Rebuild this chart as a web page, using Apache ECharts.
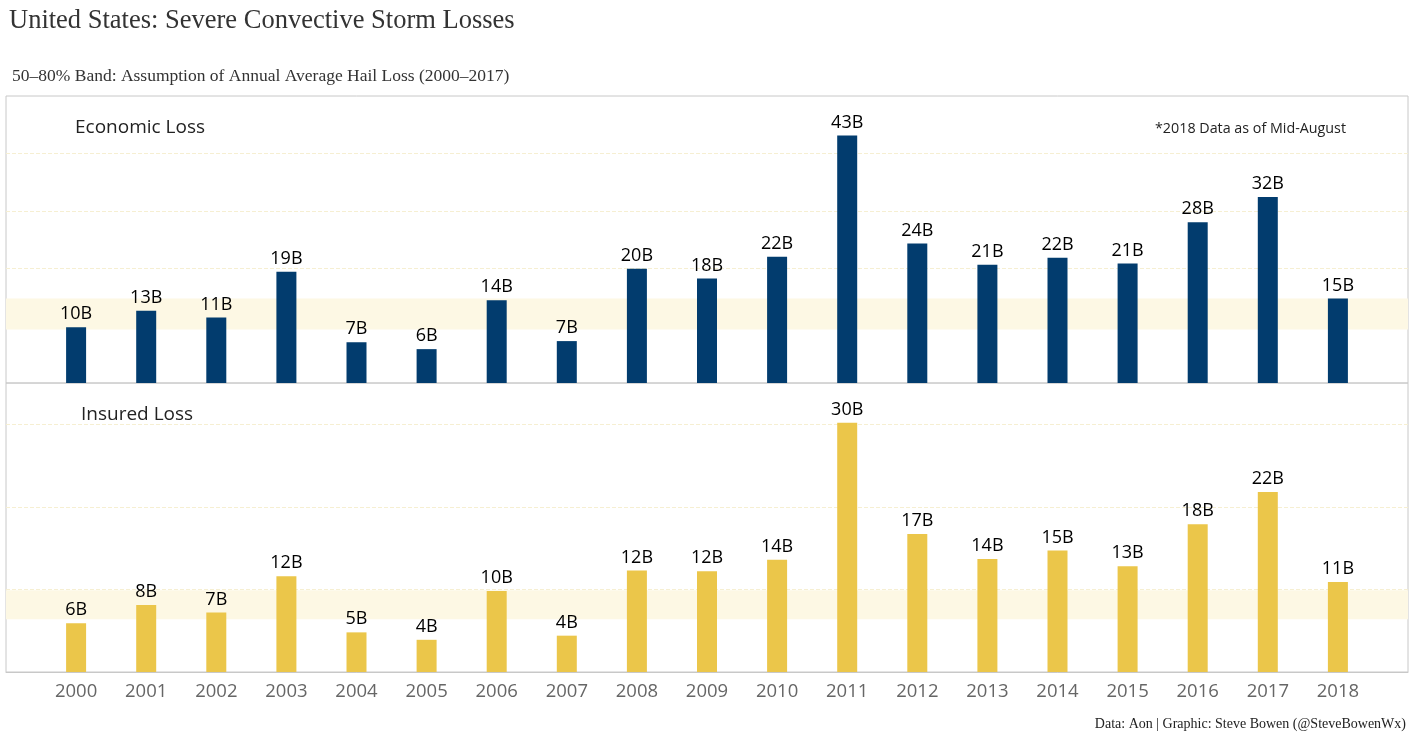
<!DOCTYPE html>
<html><head><meta charset="utf-8">
<script src="https://cdn.jsdelivr.net/npm/echarts@6/dist/echarts.min.js"></script>
<style>html,body{margin:0;padding:0;background:#fff}#c{width:1417px;height:734px}</style>
</head><body><div id="c"></div>
<script>
const years = ['2000','2001','2002','2003','2004','2005','2006','2007','2008','2009','2010','2011','2012','2013','2014','2015','2016','2017','2018'];
const economicLoss = [9.7,12.6,11.4,19.4,7.1,5.9,14.4,7.3,19.9,18.2,22.0,43.1,24.3,20.6,21.8,20.8,28.0,32.4,14.7];
const insuredLoss = [5.9,8.1,7.2,11.6,4.8,3.9,9.8,4.4,12.3,12.2,13.6,30.2,16.7,13.7,14.7,12.8,17.9,21.8,10.9];
const economicBand = [9.3, 14.7];
const insuredBand = [6.4, 9.9];

const cats = [''].concat(years, ['']);
const pad = a => ['-'].concat(a, ['-']);
const lbl = p => Math.round(p.value) + 'B';
const bandStyle = {color:'#fdf8e4', opacity:1};
const split = {show:true, showMinLine:false, showMaxLine:false, lineStyle:{color:'#f6efd2', type:'dashed', width:1}};

const chart = echarts.init(document.getElementById('c'));
chart.setOption({
  animation:false,
  title:[
    {text:'United States: Severe Convective Storm Losses', left:4, top:3,
     textStyle:{fontFamily:'Liberation Serif', fontSize:26.5, fontWeight:'normal', color:'#333'}},
    {text:'50–80% Band: Assumption of Annual Average Hail Loss (2000–2017)', left:7, top:62,
     textStyle:{fontFamily:'Liberation Serif', fontSize:17.5, fontWeight:'normal', color:'#333'}},
    {text:'Economic Loss', left:70, top:113, textStyle:{fontFamily:'Open Sans', fontSize:19, fontWeight:'normal', color:'#222'}},
    {text:'Insured Loss', left:76, top:400, textStyle:{fontFamily:'Open Sans', fontSize:19, fontWeight:'normal', color:'#222'}},
    {text:'*2018 Data as of Mid-August', right:66, top:117, textStyle:{fontFamily:'Open Sans', fontSize:14.3, fontWeight:'normal', color:'#222'}},
    {text:'Data: Aon | Graphic: Steve Bowen (@SteveBowenWx)', right:6, top:712, textStyle:{fontFamily:'Liberation Serif', fontSize:14, fontWeight:'normal', color:'#222'}}
  ],
  grid:[
    {left:6, right:9, top:96, height:287, show:true, borderColor:'#c8c8c8', borderWidth:1},
    {left:6, right:9, top:383, height:289, show:true, borderColor:'#c8c8c8', borderWidth:1}
  ],
  xAxis:[
    {type:'category', gridIndex:0, data:cats, boundaryGap:false, axisLine:{show:false}, axisTick:{show:false}, axisLabel:{show:false}},
    {type:'category', gridIndex:1, data:cats, boundaryGap:false, axisLine:{show:true, lineStyle:{color:'#c8c8c8'}}, axisTick:{show:false},
     axisLabel:{color:'#666', fontSize:18.5, fontFamily:'Open Sans', margin:10}}
  ],
  yAxis:[
    {type:'value', gridIndex:0, min:0, max:50, interval:10, axisLine:{show:false}, axisTick:{show:false}, axisLabel:{show:false}, splitLine:split},
    {type:'value', gridIndex:1, min:0, max:35, interval:10, axisLine:{show:false}, axisTick:{show:false}, axisLabel:{show:false}, splitLine:split}
  ],
  series:[
    {type:'bar', xAxisIndex:0, yAxisIndex:0, data:pad(economicLoss), barWidth:20, itemStyle:{color:'#023c6e'},
     label:{show:true, position:'top', distance:4, formatter:lbl, color:'#000', fontSize:18, fontFamily:'Open Sans'},
     markArea:{silent:true, itemStyle:bandStyle, data:[[{yAxis:economicBand[0]},{yAxis:economicBand[1]}]]}, z:3},
    {type:'bar', xAxisIndex:1, yAxisIndex:1, data:pad(insuredLoss), barWidth:20, itemStyle:{color:'#ebc64a'},
     label:{show:true, position:'top', distance:4, formatter:lbl, color:'#000', fontSize:18, fontFamily:'Open Sans'},
     markArea:{silent:true, itemStyle:bandStyle, data:[[{yAxis:insuredBand[0]},{yAxis:insuredBand[1]}]]}, z:3}
  ]
});
</script></body></html>
